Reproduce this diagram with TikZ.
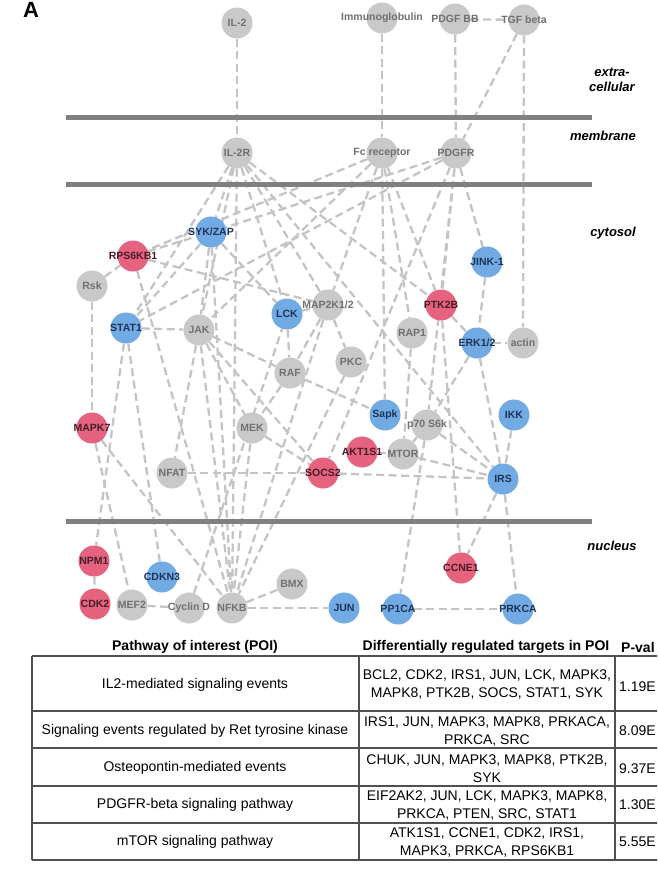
\documentclass[tikz,border=0pt]{standalone}
\usepackage{fontspec}
\setmainfont{Liberation Sans}
\usetikzlibrary{backgrounds}
\definecolor{ngray}{RGB}{201,201,201}
\definecolor{nblue}{RGB}{114,171,228}
\definecolor{nred}{RGB}{229,99,126}
\definecolor{tgray}{RGB}{112,112,112}
\definecolor{tblue}{RGB}{30,52,86}
\definecolor{tred}{RGB}{72,28,40}
\definecolor{egray}{RGB}{196,196,196}
\definecolor{mgray}{RGB}{128,128,128}
\definecolor{tline}{RGB}{80,80,80}
\tikzset{
  gnode/.style={circle, minimum size=31pt, inner sep=0pt, fill=ngray},
  bnode/.style={gnode, fill=nblue},
  rnode/.style={gnode, fill=nred},
  gnodelbl/.style={font=\fontsize{10.5}{12}\selectfont\bfseries, text=tgray, inner sep=0pt},
  bnodelbl/.style={gnodelbl, text=tblue},
  rnodelbl/.style={gnodelbl, text=tred},
  edge/.style={draw=egray, line width=2.3pt, dash pattern=on 8pt off 4.5pt},
  memb/.style={draw=mgray, line width=5pt},
  region/.style={font=\fontsize{13}{15}\selectfont\bfseries\itshape, align=center, inner sep=0pt},
  tcell/.style={font=\fontsize{14}{18}\selectfont, align=center, inner sep=0pt},
  thead/.style={font=\fontsize{14}{16}\selectfont\bfseries, inner sep=0pt},
  tpval/.style={font=\fontsize{14}{16}\selectfont, anchor=west, inner sep=0pt},
  tgrid/.style={draw=tline, line width=1.3pt},
}
\newcommand\mknode[4]{\node[#1, label={[#1lbl]center:#4}] (#2) at (#3) {};}
\begin{document}
\begin{tikzpicture}[x=1pt,y=-1pt]
\useasboundingbox (0,0) rectangle (657,870);
\clip (0,0) rectangle (657,870);
\begin{scope}[on background layer]
\fill[white] (0,0) rectangle (657,870);
\end{scope}
\node[font=\fontsize{22}{22}\selectfont\bfseries, anchor=base, inner sep=0pt] (lblA) at (31,17) {A};
% membranes
\coordinate (m1a) at (66,117); \coordinate (m1b) at (592,117);
\coordinate (m2a) at (66,184); \coordinate (m2b) at (592,184);
\coordinate (m3a) at (66,521); \coordinate (m3b) at (592,521);
\draw[memb] (m1a) -- (m1b);
\draw[memb] (m2a) -- (m2b);
\draw[memb] (m3a) -- (m3b);
% region labels
\node[region] (rext) at (612,80) {extra-\\cellular};
\node[region] (rmem) at (603,136) {membrane};
\node[region] (rcyt) at (613,233) {cytosol};
\node[region] (rnuc) at (612,546) {nucleus};
% nodes
\mknode{gnode}{il2}{237,23}{IL-2}
\mknode{gnode}{ig}{382,18}{Immunoglobulin}
\mknode{gnode}{pdgfbb}{455,19}{PDGF BB}
\mknode{gnode}{tgf}{524,20}{TGF beta}
\mknode{gnode}{il2r}{237,153}{IL-2R}
\mknode{gnode}{fc}{382,153}{Fc receptor}
\mknode{gnode}{pdgfr}{456,153}{PDGFR}
\mknode{bnode}{syk}{211,232}{SYK/ZAP}
\mknode{rnode}{rps}{133,256}{RPS6KB1}
\mknode{gnode}{rsk}{92,286}{Rsk}
\mknode{bnode}{stat1}{126,328}{STAT1}
\mknode{gnode}{jak}{199,330}{JAK}
\mknode{bnode}{lck}{287,314}{LCK}
\mknode{gnode}{map2k}{328,305}{MAP2K1/2}
\mknode{bnode}{jink}{487,262}{JINK-1}
\mknode{rnode}{ptk2b}{441,305}{PTK2B}
\mknode{gnode}{rap1}{412,333}{RAP1}
\mknode{bnode}{erk}{477,343}{ERK1/2}
\mknode{gnode}{actin}{523,343}{actin}
\mknode{gnode}{pkc}{351,362}{PKC}
\mknode{gnode}{raf}{290,373}{RAF}
\mknode{rnode}{mapk7}{92,428}{MAPK7}
\mknode{gnode}{mek}{252,428}{MEK}
\mknode{gnode}{nfat}{172,473}{NFAT}
\mknode{rnode}{socs2}{323,473}{SOCS2}
\mknode{bnode}{sapk}{385,415}{Sapk}
\mknode{gnode}{p70}{427,425}{p70 S6k}
\mknode{rnode}{akt}{362,452}{AKT1S1}
\mknode{gnode}{mtor}{403,454}{MTOR}
\mknode{bnode}{irs}{503,479}{IRS}
\mknode{bnode}{ikk}{514,415}{IKK}
\mknode{rnode}{npm1}{94,561}{NPM1}
\mknode{rnode}{cdk2}{95,604}{CDK2}
\mknode{gnode}{mef2}{132,605}{MEF2}
\mknode{bnode}{cdkn3}{162,577}{CDKN3}
\mknode{gnode}{cycd}{189,608}{Cyclin D}
\mknode{gnode}{nfkb}{232,608}{NFKB}
\mknode{gnode}{bmx}{292,584}{BMX}
\mknode{bnode}{jun}{344,608}{JUN}
\mknode{bnode}{pp1ca}{398,609}{PP1CA}
\mknode{rnode}{ccne1}{461,568}{CCNE1}
\mknode{bnode}{prkca}{518,609}{PRKCA}
% edges
\begin{scope}[on background layer]
\foreach \a/\b in {il2/il2r, ig/fc, pdgfbb/pdgfr, pdgfbb/tgf, tgf/pdgfr, tgf/actin,
  il2r/syk, il2r/stat1, il2r/jak, il2r/nfkb, il2r/lck, il2r/map2k, il2r/ptk2b, il2r/irs,
  fc/rps, fc/jak, fc/sapk, fc/rap1, fc/ptk2b, fc/map2k,
  pdgfr/stat1, pdgfr/syk, pdgfr/ptk2b, pdgfr/jink, pdgfr/socs2, pdgfr/p70,
  rsk/rps, rsk/mapk7, rps/syk, rps/map2k, rps/nfkb,
  syk/stat1, syk/jak, syk/nfkb, syk/lck, stat1/jak, stat1/npm1, stat1/cdkn3,
  jak/raf, raf/sapk, jak/socs2, jak/nfat, jak/mek, jak/nfkb,
  lck/raf, lck/map2k, map2k/raf, map2k/pkc, map2k/nfkb, raf/mek, mek/nfkb, pkc/nfkb,
  mapk7/mef2, mapk7/nfkb, nfat/socs2, socs2/irs, akt/mtor, mtor/p70, mtor/irs, p70/irs,
  rap1/mtor, ikk/irs, erk/irs, erk/p70, erk/actin, jink/erk, ptk2b/erk, ptk2b/ccne1,
  irs/ccne1, irs/prkca, p70/pp1ca, pp1ca/prkca, npm1/cdk2, mef2/cycd, cycd/lck,
  nfkb/bmx, nfkb/jun, mek/socs2}
  {\draw[edge] (\a) -- (\b);}
\end{scope}
% table
\coordinate (t1a) at (32,656); \coordinate (t1b) at (670,656);
\coordinate (t2a) at (32,711); \coordinate (t2b) at (670,711);
\coordinate (t3a) at (32,748); \coordinate (t3b) at (670,748);
\coordinate (t4a) at (32,786); \coordinate (t4b) at (670,786);
\coordinate (t5a) at (32,823); \coordinate (t5b) at (670,823);
\coordinate (t6a) at (32,860); \coordinate (t6b) at (670,860);
\coordinate (c3a) at (359,656); \coordinate (c3b) at (359,860);
\coordinate (c4a) at (615,656); \coordinate (c4b) at (615,860);
\draw[tgrid] (t1a) -- (t1b);
\draw[tgrid] (t2a) -- (t2b);
\draw[tgrid] (t3a) -- (t3b);
\draw[tgrid] (t4a) -- (t4b);
\draw[tgrid] (t5a) -- (t5b);
\draw[tgrid] (t6a) -- (t6b);
\draw[tgrid] (t1a) -- (t6a);
\draw[tgrid] (c3a) -- (c3b);
\draw[tgrid] (c4a) -- (c4b);
\node[thead] (h1) at (195,647) {Pathway of interest (POI)};
\node[thead] (h2) at (486,647) {Differentially regulated targets in POI};
\node[thead, anchor=west] (h3) at (621,647) {P-val};
\node[tcell] (r1a) at (195,685) {IL2-mediated signaling events};
\node[tcell] (r2a) at (195,731) {Signaling events regulated by Ret tyrosine kinase};
\node[tcell] (r3a) at (195,768) {Osteopontin-mediated events};
\node[tcell] (r4a) at (195,805) {PDGFR-beta signaling pathway};
\node[tcell] (r5a) at (195,842) {mTOR signaling pathway};
\node[tcell] (r1b) at (487,684) {BCL2, CDK2, IRS1, JUN, LCK, MAPK3,\\MAPK8, PTK2B, SOCS, STAT1, SYK};
\node[tcell] (r2b) at (487,731) {IRS1, JUN, MAPK3, MAPK8, PRKACA,\\PRKCA, SRC};
\node[tcell] (r3b) at (487,769) {CHUK, JUN, MAPK3, MAPK8, PTK2B,\\SYK};
\node[tcell] (r4b) at (487,805.5) {EIF2AK2, JUN, LCK, MAPK3, MAPK8,\\PRKCA, PTEN, SRC, STAT1};
\node[tcell] (r5b) at (487,842.5) {ATK1S1, CCNE1, CDK2, IRS1,\\MAPK3, PRKCA, RPS6KB1};
\node[tpval] (r1c) at (619,687) {1.19E};
\node[tpval] (r2c) at (619,731) {8.09E};
\node[tpval] (r3c) at (619,769) {9.37E};
\node[tpval] (r4c) at (619,805) {1.30E};
\node[tpval] (r5c) at (619,842) {5.55E};
\end{tikzpicture}
\end{document}
